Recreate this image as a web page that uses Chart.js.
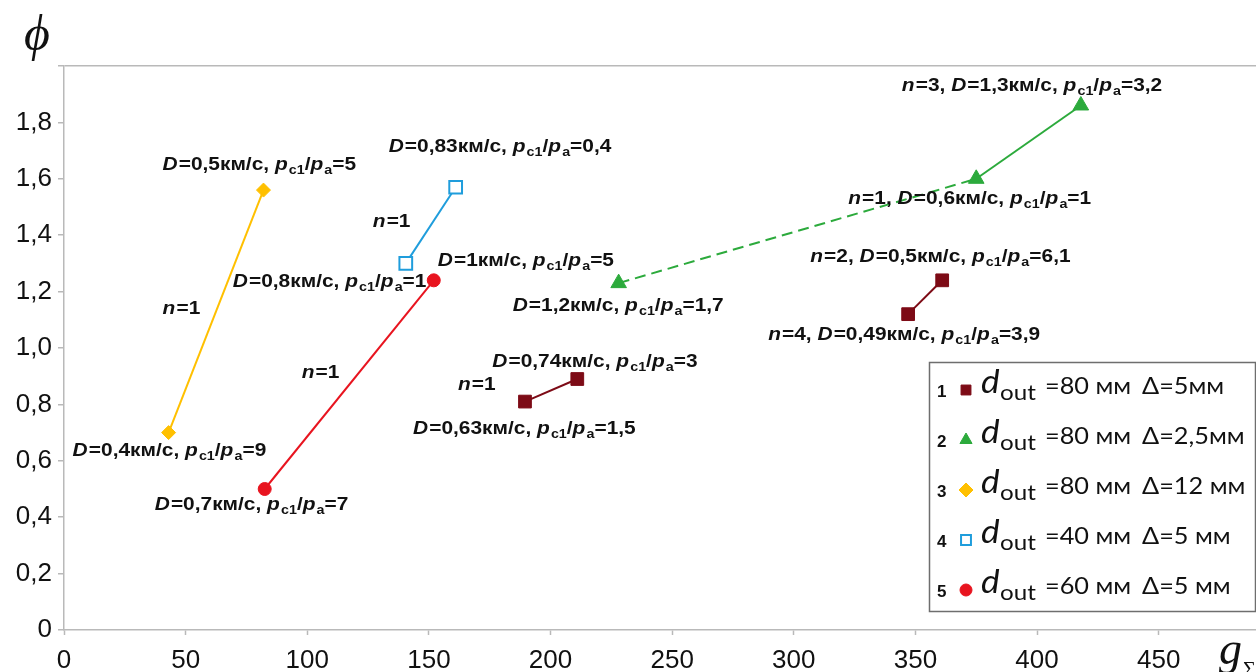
<!DOCTYPE html>
<html>
<head>
<meta charset="utf-8">
<script src="https://cdn.jsdelivr.net/npm/chart.js@4.4.1/dist/chart.umd.min.js"></script>
<style>
  html, body { margin: 0; padding: 0; background: #fff; }
  #wrap { width: 1256px; height: 672px; position: relative; }
</style>
</head>
<body>
<div id="wrap"><canvas id="c" width="1256" height="672"></canvas></div>
<script>
// ---- data: g_sum (x) and phi (y) ----
const xTicks = [0, 50, 100, 150, 200, 250, 300, 350, 400, 450];
const yTicks = [0, 0.2, 0.4, 0.6, 0.8, 1.0, 1.2, 1.4, 1.6, 1.8];
const yLabels = ['0', '0,2', '0,4', '0,6', '0,8', '1,0', '1,2', '1,4', '1,6', '1,8'];

// 1: d_out = 80 mm, Δ = 5 mm (two separate runs)
const s1aG = [189.5, 211];   const s1aPhi = [0.81, 0.89];
const s1bG = [347, 361];     const s1bPhi = [1.12, 1.24];
// 2: d_out = 80 mm, Δ = 2,5 mm
const s2G = [228, 375, 418]; const s2Phi = [1.23, 1.60, 1.86];
// 3: d_out = 80 mm, Δ = 12 mm
const s3G = [43, 82];        const s3Phi = [0.70, 1.56];
// 4: d_out = 40 mm, Δ = 5 mm
const s4G = [140.5, 161];    const s4Phi = [1.30, 1.57];
// 5: d_out = 60 mm, Δ = 5 mm
const s5G = [82.5, 152];     const s5Phi = [0.50, 1.24];

// legend rows: number, d_out value, Δ text
const legendNums  = ['1', '2', '3', '4', '5'];
const legendDout  = ['=80 мм', '=80 мм', '=80 мм', '=40 мм', '=60 мм'];
const legendDelta = ['Δ=5мм', 'Δ=2,5мм', 'Δ=12 мм', 'Δ=5 мм', 'Δ=5 мм'];

// point annotations: dataset index, point index, text
const noteSet  = [3, 4, 4, 5, 4, 3, 2, 5, 0, 0, 3, 0, 5, 2, 2, 1, 1];
const notePt   = [1, 1, 0, 1, 0, 0, 0, 0, 1, 0, 0, 0, 0, 2, 1, 1, 0];
const noteText = [
  'D=0,5км/с, p_c1/p_a=5',
  'D=0,83км/с, p_c1/p_a=0,4',
  'n=1',
  'D=1км/с, p_c1/p_a=5',
  'D=0,8км/с, p_c1/p_a=1',
  'n=1',
  'D=1,2км/с, p_c1/p_a=1,7',
  'n=1',
  'D=0,74км/с, p_c1/p_a=3',
  'n=1',
  'D=0,4км/с, p_c1/p_a=9',
  'D=0,63км/с, p_c1/p_a=1,5',
  'D=0,7км/с, p_c1/p_a=7',
  'n=3, D=1,3км/с, p_c1/p_a=3,2',
  'n=1, D=0,6км/с, p_c1/p_a=1',
  'n=2, D=0,5км/с, p_c1/p_a=6,1',
  'n=4, D=0,49км/с, p_c1/p_a=3,9'
];

// ---- layout / style ----
const noteOffset = [
  [-101, -20], [-67, -35], [-33, -36], [4, -14], [-173, 24], [-6, -119],
  [-106, 28], [37, -111], [-85, -12], [-67, -12], [-96, 23], [-112, 32],
  [-110, 21], [-179, -14], [-128, 25], [-132, -18], [-140, 26]
];
const SANS = '"Liberation Sans", Arial, sans-serif';
const SERIF = '"Liberation Serif", "Times New Roman", serif';
const LEG = 'Lato, "Open Sans", sans-serif';
const STRETCH = 1.1;
const AXIS_GREY = '#b9b9b9';

const pts = (xs, ys) => xs.map((x, i) => ({ x, y: ys[i] }));

const C1 = '#7d0b16', C2 = '#2caa3c', C3 = '#ffc000', C4 = '#1f9ddc', C5 = '#e8141f';

const datasets = [
  { data: pts(s1aG, s1aPhi), borderColor: C1, backgroundColor: C1, pointStyle: 'rect', pointRadius: 9, pointBorderWidth: 1 },
  { data: pts(s1bG, s1bPhi), borderColor: C1, backgroundColor: C1, pointStyle: 'rect', pointRadius: 9, pointBorderWidth: 1 },
  { data: pts(s2G, s2Phi), borderColor: C2, backgroundColor: C2, pointStyle: 'triangle', pointRadius: 9, pointBorderWidth: 1,
    segment: { borderDash: ctx => ctx.p0DataIndex === 0 ? [11, 6] : undefined } },
  { data: pts(s3G, s3Phi), borderColor: C3, backgroundColor: C3, pointStyle: 'rectRot', pointRadius: 7, pointBorderWidth: 1 },
  { data: pts(s4G, s4Phi), borderColor: C4, backgroundColor: '#ffffff', pointStyle: 'rect', pointRadius: 9, pointBorderWidth: 2 },
  { data: pts(s5G, s5Phi), borderColor: C5, backgroundColor: C5, pointStyle: 'circle', pointRadius: 6.5, pointBorderWidth: 1 }
].map(d => Object.assign({ showLine: true, borderWidth: 2, pointHoverRadius: d.pointRadius }, d));

// legend row -> dataset used for its marker
const legendSet = [0, 2, 3, 4, 5];

// rich text: italic D/n/p, "_xx" subscripts
function drawRich(ctx, str, x, y, size) {
  const tokens = str.match(/_[^/=,]+|[Dnp]|[^_Dnp]+/g);
  ctx.save();
  ctx.translate(x, y);
  ctx.scale(STRETCH, 1);
  ctx.fillStyle = '#111';
  ctx.textBaseline = 'alphabetic';
  ctx.textAlign = 'left';
  let cx = 0;
  for (const t of tokens) {
    let txt = t, dy = 0;
    if (t[0] === '_') { txt = t.slice(1); dy = 4; ctx.font = 'bold ' + Math.round(size * 0.68) + 'px ' + SANS; }
    else if (/^[Dnp]$/.test(t)) { ctx.font = 'italic bold ' + size + 'px ' + SANS; }
    else { ctx.font = 'bold ' + size + 'px ' + SANS; }
    ctx.fillText(txt, cx, dy);
    cx += ctx.measureText(txt).width;
    if (/^[Dnp]$/.test(t)) cx += 1;
  }
  ctx.restore();
}

function drawMarker(ctx, ds, x, y, r) {
  ctx.save();
  ctx.fillStyle = ds.backgroundColor;
  ctx.strokeStyle = ds.borderColor;
  ctx.lineWidth = ds.pointBorderWidth;
  Chart.helpers.drawPoint(ctx, { pointStyle: ds.pointStyle, radius: r, rotation: 0, borderWidth: ds.pointBorderWidth }, x, y);
  ctx.restore();
}

function stretchedText(ctx, txt, x, y, font) {
  ctx.save();
  ctx.translate(x, y);
  ctx.scale(STRETCH, 1);
  ctx.font = font;
  ctx.fillText(txt, 0, 0);
  ctx.restore();
}

const decor = {
  id: 'decor',
  afterDatasetsDraw(chart) {
    const ctx = chart.ctx;
    // annotations next to points
    noteText.forEach((txt, k) => {
      const el = chart.getDatasetMeta(noteSet[k]).data[notePt[k]];
      drawRich(ctx, txt, el.x + noteOffset[k][0], el.y + noteOffset[k][1], 19);
    });

    // axis titles
    ctx.save();
    ctx.fillStyle = '#111';
    ctx.font = 'italic 50px ' + SERIF;
    ctx.textAlign = 'center';
    ctx.fillText('ϕ', 37, 50);
    ctx.textAlign = 'left';
    ctx.font = 'italic 46px ' + SERIF;
    ctx.fillText('g', 1219, 664);
    ctx.font = '22px ' + SERIF;
    ctx.fillText('Σ', 1243, 676);
    ctx.restore();

    // legend box
    const bx = 929.5, by = 362.5, bw = 326, bh = 249;
    ctx.save();
    ctx.fillStyle = '#fff';
    ctx.fillRect(bx, by, bw, bh);
    ctx.strokeStyle = '#6e6e6e';
    ctx.lineWidth = 1.5;
    ctx.strokeRect(bx, by, bw, bh);
    ctx.textBaseline = 'alphabetic';
    legendNums.forEach((num, i) => {
      const cy = 390 + i * 50;
      ctx.fillStyle = '#111';
      ctx.font = 'bold 17px ' + SANS;
      ctx.fillText(num, 937, cy + 7);
      const ds = chart.data.datasets[legendSet[i]];
      const r = ds.pointStyle === 'circle' ? 6 : 7;
      drawMarker(ctx, ds, 966, cy, r);
      ctx.fillStyle = '#111';
      stretchedText(ctx, 'd', 981, cy + 3, 'italic 32px ' + LEG);
      stretchedText(ctx, 'out', 1000, cy + 10, '22px ' + LEG);
      stretchedText(ctx, legendDout[i], 1045, cy + 4, '23px ' + LEG);
      stretchedText(ctx, legendDelta[i], 1142, cy + 4, '23px ' + LEG);
    });
    ctx.restore();
  }
};

new Chart(document.getElementById('c').getContext('2d'), {
  type: 'scatter',
  data: { datasets },
  options: {
    responsive: false,
    animation: false,
    events: [],
    layout: { autoPadding: false, padding: { top: 66, right: 0, left: 0, bottom: 0 } },
    plugins: { legend: { display: false }, tooltip: { enabled: false } },
    scales: {
      x: {
        type: 'linear', min: 0, max: 490,
        afterBuildTicks: s => { s.ticks = xTicks.map(v => ({ value: v })); },
        afterFit: s => { s.height = 42; s.paddingLeft = 0; s.paddingRight = 0; },
        grid: { drawOnChartArea: false, drawTicks: true, tickLength: 5, tickColor: AXIS_GREY, tickWidth: 1.5 },
        border: { display: true, color: AXIS_GREY, width: 1.5 },
        ticks: { font: { family: SANS, size: 26 }, color: '#111', padding: 10, maxRotation: 0, autoSkip: false }
      },
      y: {
        type: 'linear', min: 0, max: 2,
        afterBuildTicks: s => { s.ticks = yTicks.concat([2]).map(v => ({ value: v })); },
        afterFit: s => { s.width = 64; },
        grid: {
          color: c => (c.tick && c.tick.value === 2) ? AXIS_GREY : 'rgba(0,0,0,0)',
          lineWidth: 1.5, tickLength: 6, tickColor: AXIS_GREY, tickWidth: 1.5
        },
        border: { display: true, color: AXIS_GREY, width: 1.5 },
        ticks: {
          font: { family: SANS, size: 26 }, color: '#111', padding: 6,
          callback: (v, i) => i < yLabels.length ? yLabels[i] : ''
        }
      }
    }
  },
  plugins: [decor]
});
</script>
</body>
</html>
